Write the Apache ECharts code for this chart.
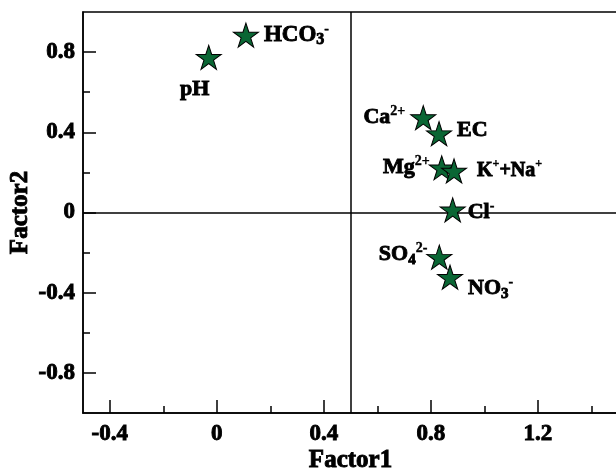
<!DOCTYPE html>
<html>
<head>
<meta charset="utf-8">
<script src="https://cdn.jsdelivr.net/npm/echarts@6/dist/echarts.min.js"></script>
<style>html,body{margin:0;padding:0;background:#fff;}#c{width:616px;height:476px;}</style>
</head>
<body>
<div id="c"></div>
<script>
// ---- data ----
const names = ['pH', 'HCO3-', 'Ca2+', 'EC', 'Mg2+', 'K++Na+', 'Cl-', 'SO42-', 'NO3-'];
const richNames = ['pH', 'HCO{sub|3}{sup|-}', 'Ca{sup|2+}', 'EC', 'Mg{sup|2+}', 'K{sup|+}+Na{sup|+}', 'Cl{sup|-}', 'SO{sub|4}{sup|2-}', 'NO{sub|3}{sup|-}'];
const factor1 = [-0.03, 0.109, 0.772, 0.831, 0.841, 0.887, 0.882, 0.832, 0.872];
const factor2 = [0.774, 0.885, 0.473, 0.393, 0.223, 0.207, 0.013, -0.223, -0.323];
const xMajorTicks = [-0.4, 0, 0.4, 0.8, 1.2];
const xMinorTicks = [-0.2, 0.2, 0.6, 1.0, 1.4];
const yMajorTicks = [-0.8, -0.4, 0, 0.4, 0.8];
const yMinorTicks = [-0.6, -0.2, 0.2, 0.6];
const xRefLine = 0.5;
const yRefLine = 0;

// ---- label placement (style, not data) ----
const labelPlace = [
  {position: 'bottom', offset: [-14, 2], size: 22},
  {position: 'right', offset: [0, 0], size: 23},
  {position: 'left', offset: [0, 0], size: 22},
  {position: 'right', offset: [0, -3], size: 22},
  {position: 'left', offset: [6, 0], size: 22},
  {position: 'right', offset: [5, 0], size: 20},
  {position: 'right', offset: [-3, 2], size: 22},
  {position: 'left', offset: [6, -3], size: 22},
  {position: 'right', offset: [0, 11], size: 22}
];

const FONT = "'Liberation Serif','Times New Roman',serif";
const STAR = 'path://M50 0 L61.23 34.55 L97.55 34.55 L68.17 55.9 L79.39 90.45 L50 69.1 L20.61 90.45 L31.83 55.9 L2.45 34.55 L38.77 34.55 Z';
const TXT = {color: '#000', fontFamily: FONT, fontWeight: 'bold', textBorderColor: '#000', textBorderWidth: 0.9};

const chart = echarts.init(document.getElementById('c'), null, {renderer: 'canvas'});

const pts = names.map((n, i) => {
  const s = labelPlace[i].size;
  return {
    name: n,
    value: [factor1[i], factor2[i]],
    label: {
      position: labelPlace[i].position,
      offset: labelPlace[i].offset,
      formatter: richNames[i],
      fontSize: s,
      lineHeight: 26,
      rich: {
        sub: Object.assign({fontSize: Math.round(s * 0.68), verticalAlign: 'bottom', lineHeight: 26}, TXT),
        sup: Object.assign({fontSize: Math.round(s * 0.62), verticalAlign: 'top', lineHeight: 26}, TXT, {textBorderWidth: 0.4})
      }
    }
  };
});

const tickStyle = {color: '#000', width: 1.5};

chart.setOption({
  animation: false,
  grid: {left: 83, right: -2, top: 12, bottom: 63, containLabel: false, outerBoundsMode: 'none', show: true, borderColor: '#000', borderWidth: 1.5, backgroundColor: 'transparent'},
  xAxis: [{
    type: 'value', min: -0.5, max: 1.5,
    axisLine: {show: true, onZero: false, lineStyle: {color: '#000', width: 1.5}},
    axisTick: {show: true, inside: true, length: 13, lineStyle: tickStyle, customValues: xMajorTicks},
    axisLabel: Object.assign({show: true, customValues: xMajorTicks, fontSize: 23, margin: 10}, TXT),
    splitLine: {show: false},
    name: 'Factor1', nameLocation: 'middle', nameGap: 35, nameMoveOverlap: false,
    nameTextStyle: Object.assign({fontSize: 25}, TXT)
  }, {
    type: 'value', min: -0.5, max: 1.5, position: 'bottom',
    axisLine: {show: false, onZero: false},
    axisTick: {show: true, inside: true, length: 7, lineStyle: tickStyle, customValues: xMinorTicks},
    axisLabel: {show: false},
    splitLine: {show: false}
  }],
  yAxis: [{
    type: 'value', min: -1, max: 1,
    axisLine: {show: true, onZero: false, lineStyle: {color: '#000', width: 1.5}},
    axisTick: {show: true, inside: true, length: 13, lineStyle: tickStyle, customValues: yMajorTicks},
    axisLabel: Object.assign({show: true, customValues: yMajorTicks, fontSize: 23, margin: 8}, TXT),
    splitLine: {show: false},
    name: 'Factor2', nameLocation: 'middle', nameGap: 50, nameMoveOverlap: false,
    nameTextStyle: Object.assign({fontSize: 25}, TXT)
  }, {
    type: 'value', min: -1, max: 1, position: 'left',
    axisLine: {show: false, onZero: false},
    axisTick: {show: true, inside: true, length: 7, lineStyle: tickStyle, customValues: yMinorTicks},
    axisLabel: {show: false},
    splitLine: {show: false}
  }],
  series: [{
    type: 'scatter',
    xAxisIndex: 0, yAxisIndex: 0,
    symbol: STAR,
    symbolSize: [25, 24],
    itemStyle: {color: '#0a6634', borderColor: '#000', borderWidth: 1, opacity: 1},
    label: Object.assign({show: true, distance: 5}, TXT),
    data: pts,
    markLine: {
      silent: true,
      symbol: 'none',
      label: {show: false},
      lineStyle: {color: '#000', width: 1.5, type: 'solid'},
      data: [{xAxis: xRefLine}, {yAxis: yRefLine}],
      z: 1
    },
    z: 5
  }]
});
</script>
</body>
</html>
